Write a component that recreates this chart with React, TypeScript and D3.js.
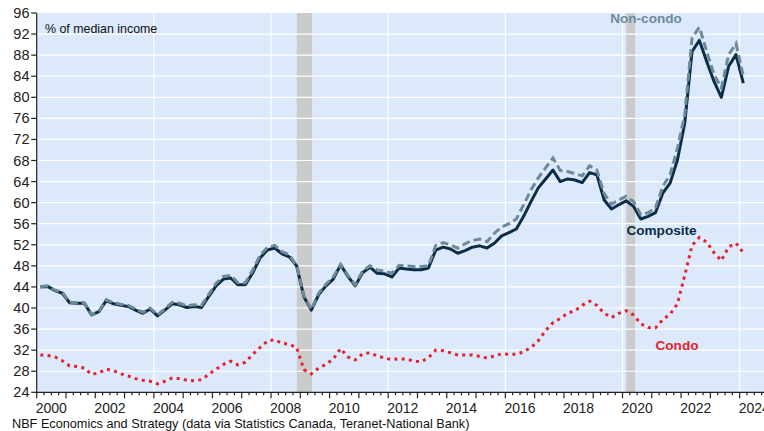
import React, { useEffect, useRef } from 'react';
import * as d3 from 'd3';

// quarterly, 2000Q1 .. 2024Q1 (mortgage payment as % of median income)
const composite = [
  44.0, 44.1, 43.3, 42.8, 41.0, 40.9, 40.9, 38.7, 39.3, 41.4, 40.8, 40.5, 40.3, 39.6, 39.0, 39.8,
  38.5, 39.6, 40.8, 40.6, 40.1, 40.3, 40.1, 42.2, 44.2, 45.5, 45.7, 44.4, 44.4, 46.7, 49.5, 51.0,
  51.4, 50.3, 49.7, 48.0, 42.1, 39.6, 42.5, 44.2, 45.5, 48.2, 46.0, 44.2, 46.7, 47.75, 46.6, 46.5,
  45.9, 47.6, 47.4, 47.25, 47.25, 47.6, 51.0, 51.55, 51.2, 50.4, 50.9, 51.55, 51.8, 51.4, 52.3, 53.7,
  54.3, 55.0, 57.4, 60.2, 62.8, 64.5, 66.2, 64.0, 64.5, 64.3, 63.8, 65.7, 65.3, 60.5, 58.8, 59.6,
  60.35, 59.3, 56.9, 57.4, 58.1, 61.8, 63.7, 68.1, 75.1, 88.7, 90.8, 86.8, 83.0, 80.0, 85.9, 88.1,
  82.7,
];

const nonCondo = [
  44.1, 44.2, 43.4, 43.0, 41.1, 41.0, 41.0, 38.8, 39.4, 41.6, 41.0, 40.7, 40.5, 39.8, 39.2, 40.0,
  38.7, 39.8, 41.1, 40.9, 40.4, 40.6, 40.5, 42.6, 44.7, 46.0, 46.2, 44.8, 44.8, 47.2, 50.0, 51.5,
  51.9, 50.7, 50.1, 48.0, 42.3, 39.7, 42.8, 44.5, 45.9, 48.3, 46.2, 44.4, 47.0, 48.0, 47.2, 47.0,
  46.6, 48.1, 48.0, 47.9, 47.9, 48.0, 51.9, 52.4, 52.0, 51.35, 52.2, 52.8, 53.1, 52.6, 54.2, 55.35,
  56.0, 56.9, 59.6, 62.4, 64.7, 66.6, 68.5, 66.1, 65.9, 65.5, 65.1, 67.0, 66.2, 61.7, 59.7, 60.5,
  61.2, 60.2, 57.7, 58.1, 59.0, 63.1, 65.3, 70.35, 76.7, 91.25, 93.3, 88.7, 84.3, 81.8, 88.1, 90.2,
  84.0,
];

const condo = [
  31.1, 31.0, 30.7, 30.0, 29.0, 28.9, 28.6, 27.4, 27.7, 28.4, 28.1, 27.5, 27.1, 26.6, 26.3, 26.1,
  25.6, 26.1, 26.7, 26.6, 26.3, 26.2, 26.4, 27.4, 28.4, 29.3, 29.9, 29.2, 29.7, 31.2, 32.5, 33.7,
  34.0, 33.3, 33.1, 32.5, 28.3, 27.5, 28.6, 29.3, 30.3, 32.3, 30.7, 30.15, 31.3, 31.5, 30.9, 30.5,
  30.2, 30.35, 30.3, 29.9, 29.8, 30.6, 32.0, 31.9, 31.5, 31.1, 31.1, 31.1, 30.8, 30.5, 30.9, 31.3,
  31.2, 31.2, 31.7, 32.5, 33.8, 35.7, 37.2, 38.0, 39.0, 39.5, 40.5, 41.3, 40.5, 39.0, 38.2, 39.0,
  39.5, 38.7, 37.0, 36.3, 36.2, 37.8, 38.8, 40.8, 46.2, 51.9, 53.4, 52.5, 50.5, 49.0, 51.6, 52.3,
  50.5,
];

const startYear = 2000;
const recessions = [[2008.88, 2009.4], [2020.13, 2020.43]];
const yTicks = d3.range(24, 97, 4);
const yearTicks = d3.range(2000, 2025);
const yearLabels = d3.range(2000, 2025, 2);
const gridYears = [2004, 2008, 2012, 2016, 2020, 2024];

const W = 764;
const H = 431;
const FONT = 'Arial, "Liberation Sans", sans-serif';

export default function App() {
  const ref = useRef<SVGSVGElement>(null);

  useEffect(() => {
    const svg = d3.select(ref.current);
    svg.selectAll('*').remove();

    const left = 36.7, top = 13, bottom = 392.3;
    const x = d3.scaleLinear().domain([2000, 2025]).range([left, left + 25 * 29.29]);
    const y = d3.scaleLinear().domain([24, 96]).range([bottom, top]);
    const date = (i: number) => startYear + 0.125 + i * 0.25;

    svg.append('rect')
      .attr('x', left).attr('y', top)
      .attr('width', W - left).attr('height', bottom - top)
      .attr('fill', '#dce9fb');

    svg.append('g').selectAll('rect')
      .data(recessions)
      .join('rect')
        .attr('x', d => x(d[0]))
        .attr('width', d => x(d[1]) - x(d[0]))
        .attr('y', top).attr('height', bottom - top)
        .attr('fill', '#cbcbcb');

    const grid = svg.append('g').attr('stroke', '#fff').attr('stroke-width', 1.2);
    grid.selectAll('line.h')
      .data(yTicks.filter(v => v > 24 && v < 96))
      .join('line').attr('class', 'h')
        .attr('x1', left).attr('x2', W)
        .attr('y1', d => y(d)).attr('y2', d => y(d));
    grid.selectAll('line.v')
      .data(gridYears)
      .join('line').attr('class', 'v')
        .attr('x1', d => x(d)).attr('x2', d => x(d))
        .attr('y1', top).attr('y2', bottom);

    const line = d3.line<number>()
      .x((_, i) => x(date(i)))
      .y(d => y(d));

    svg.append('path').datum(composite)
      .attr('d', line).attr('fill', 'none')
      .attr('stroke', '#0b2d48').attr('stroke-width', 3)
      .attr('stroke-linejoin', 'round');

    svg.append('path').datum(nonCondo)
      .attr('d', line).attr('fill', 'none')
      .attr('stroke', '#6e8a99').attr('stroke-width', 3)
      .attr('stroke-dasharray', '8,4');

    svg.append('path').datum(condo)
      .attr('d', line).attr('fill', 'none')
      .attr('stroke', '#e8202c').attr('stroke-width', 3)
      .attr('stroke-dasharray', '3,4.3');

    // axes
    const axis = svg.append('g').attr('stroke', '#222').attr('stroke-width', 1.2);
    axis.append('line').attr('x1', left).attr('x2', left).attr('y1', top).attr('y2', bottom + 0.6);
    axis.append('line').attr('x1', left).attr('x2', W).attr('y1', bottom).attr('y2', bottom);
    axis.selectAll('line.yt')
      .data(yTicks)
      .join('line').attr('class', 'yt')
        .attr('x1', left - 5.5).attr('x2', left)
        .attr('y1', d => y(d)).attr('y2', d => y(d));
    axis.selectAll('line.xt')
      .data(yearTicks)
      .join('line').attr('class', 'xt')
        .attr('x1', d => x(d)).attr('x2', d => x(d))
        .attr('y1', bottom).attr('y2', bottom + 6);
    axis.selectAll('line.qt')
      .data(yearTicks.flatMap(yr => [0.25, 0.5, 0.75].map(q => yr + q)))
      .join('line').attr('class', 'qt')
        .attr('x1', d => x(d)).attr('x2', d => x(d))
        .attr('y1', bottom).attr('y2', bottom + 3);

    svg.append('g').selectAll('text')
      .data(yTicks)
      .join('text')
        .attr('x', 29.5).attr('y', d => y(d) + 5)
        .attr('text-anchor', 'end')
        .attr('font-family', FONT).attr('font-size', 14.5).attr('fill', '#222')
        .text(d => d);

    svg.append('g').selectAll('text')
      .data(yearLabels)
      .join('text')
        .attr('x', d => x(d + 0.5)).attr('y', 413)
        .attr('text-anchor', 'middle')
        .attr('font-family', FONT).attr('font-size', 14).attr('fill', '#222')
        .text(d => d);

    svg.append('text')
      .attr('x', 45).attr('y', 32.5)
      .attr('font-family', FONT).attr('font-size', 12.4).attr('fill', '#111')
      .text('% of median income');

    const labels = [
      { text: 'Non-condo', x: 646, y: 22.5, color: '#6e8a99' },
      { text: 'Composite', x: 661.5, y: 235, color: '#0b2d48' },
      { text: 'Condo', x: 677, y: 350, color: '#e8202c' },
    ];
    svg.append('g').selectAll('text')
      .data(labels)
      .join('text')
        .attr('x', d => d.x).attr('y', d => d.y)
        .attr('text-anchor', 'middle')
        .attr('font-family', FONT).attr('font-size', 13.6).attr('font-weight', 'bold')
        .attr('fill', d => d.color)
        .text(d => d.text);

    svg.append('text')
      .attr('x', 12).attr('y', 428)
      .attr('font-family', FONT).attr('font-size', 12.7).attr('fill', '#111')
      .text('NBF Economics and Strategy (data via Statistics Canada, Teranet-National Bank)');
  }, []);

  return (
    <svg
      ref={ref}
      width={W}
      height={H}
      style={{ position: 'absolute', left: 0, top: 0, background: '#fff' }}
    />
  );
}
